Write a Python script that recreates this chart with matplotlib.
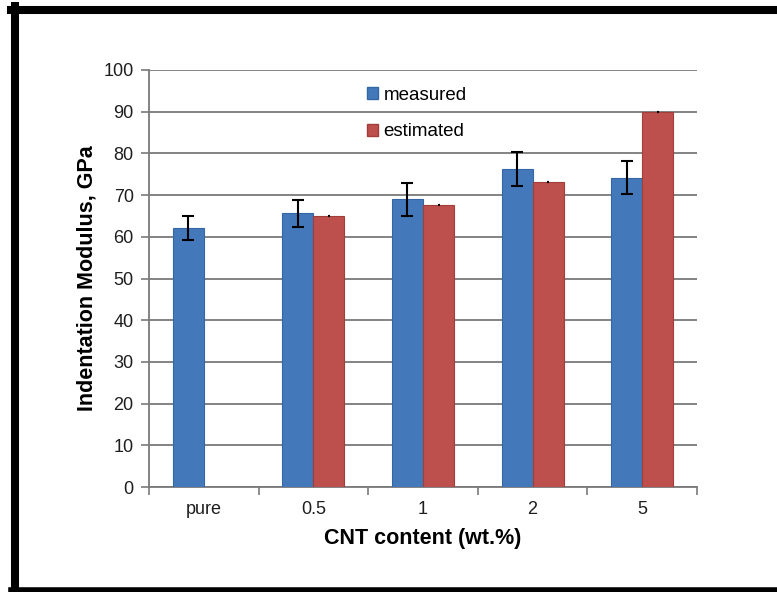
import numpy as np
import matplotlib
matplotlib.use('Agg')
import matplotlib.pyplot as plt
from matplotlib.patches import Patch
from matplotlib.lines import Line2D

plt.rcParams['font.family'] = ['Liberation Sans', 'DejaVu Sans']

categories = ['pure', '0.5', '1', '2', '5']
measured = [62.2, 65.6, 69.0, 76.3, 74.2]
measured_err = [2.9, 3.2, 4.0, 4.1, 4.0]
estimated = [np.nan, 65.0, 67.6, 73.2, 90.0]
estimated_err = [0, 0, 0, 0, 0]
yticks = [0, 10, 20, 30, 40, 50, 60, 70, 80, 90, 100]

blue = '#4379ba'
red = '#bd4f4c'
grid_col = '#7a7a7a'

fig = plt.figure(figsize=(7.77, 5.92), dpi=100)
ax = fig.add_axes([149/777, 1-487/592, 548/777, 417/592])

x = np.arange(len(categories))
w = 0.283
ax.bar(x - w/2, measured, w, color=blue, edgecolor='#3465a4', linewidth=0.8,
       yerr=measured_err, error_kw=dict(ecolor='black', elinewidth=1.5, capsize=4.5, capthick=1.5), zorder=3)
ax.bar(x + w/2, estimated, w, color=red, edgecolor='#a33d3a', linewidth=0.8,
       yerr=estimated_err, error_kw=dict(ecolor='black', elinewidth=1.5, capsize=1, capthick=1.5), zorder=3)

ax.set_xlim(-0.5, len(categories) - 0.5)
ax.set_ylim(0, 100)
ax.set_yticks(yticks)
ax.yaxis.grid(True, color=grid_col, linewidth=1.3)
ax.set_axisbelow(True)

# category boundary ticks, labels at centers
ax.set_xticks(np.arange(-0.5, len(categories)))
ax.set_xticklabels([])
ax.set_xticks(x, minor=True)
ax.set_xticklabels(categories, minor=True)
ax.tick_params(axis='x', which='major', length=6, color=grid_col, width=1.2, direction='out')
ax.tick_params(axis='x', which='minor', length=0, pad=10, labelsize=13, labelcolor='#1e1e1e')
ax.tick_params(axis='y', length=6, color=grid_col, width=1.2, pad=5, labelsize=13, labelcolor='#1e1e1e')

for s in ['top', 'right']:
    ax.spines[s].set_visible(False)
for s in ['left', 'bottom']:
    ax.spines[s].set_color(grid_col)
    ax.spines[s].set_linewidth(1.3)

ax.set_ylabel('Indentation Modulus, GPa', fontsize=15.5, fontweight='bold', labelpad=4)
ax.set_xlabel('CNT content (wt.%)', fontsize=15.5, fontweight='bold', labelpad=7)

handles = [Patch(facecolor=blue, edgecolor='#3465a4'), Patch(facecolor=red, edgecolor='#a33d3a')]
ax.legend(handles, ['measured', 'estimated'], loc='upper left', bbox_to_anchor=(0.385, 0.978),
          frameon=False, fontsize=13.5, handlelength=0.55, handleheight=0.6, handletextpad=0.3,
          labelspacing=1.05, borderaxespad=0)

# black frame on left, top, bottom
fig.add_artist(Line2D([15/777, 15/777], [0, 1-6/592], transform=fig.transFigure, color='black', linewidth=5.8))
fig.add_artist(Line2D([11/777, 1], [1-10/592, 1-10/592], transform=fig.transFigure, color='black', linewidth=5.8))
fig.add_artist(Line2D([11/777, 1], [1-590/592, 1-590/592], transform=fig.transFigure, color='black', linewidth=4))

fig.savefig('out.png', dpi=100)
